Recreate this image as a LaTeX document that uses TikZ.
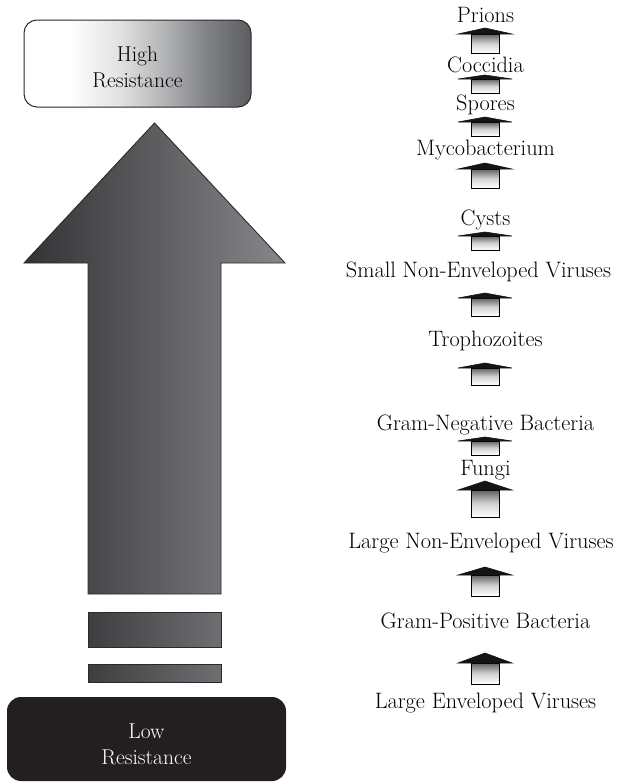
\documentclass[tikz,border=0pt]{standalone}
\usepackage{fontspec}
\setmainfont{Latin Modern Roman}
\definecolor{hrA}{HTML}{E2E2E3}
\definecolor{hrB}{HTML}{B2B3B5}
\definecolor{hrC}{HTML}{828386}
\definecolor{hrD}{HTML}{5C5D60}
\definecolor{arrL}{HTML}{333335}
\definecolor{arrR}{HTML}{86878A}
\definecolor{barL}{HTML}{3E3E40}
\definecolor{barR}{HTML}{6E6F72}
\definecolor{lowfill}{HTML}{231F20}
\definecolor{edge}{HTML}{2A2A2A}
\pgfdeclarehorizontalshading{highres}{100bp}{color(0bp)=(white); color(25bp)=(white); color(35bp)=(white); color(46bp)=(hrA); color(56bp)=(hrB); color(65bp)=(hrC); color(75bp)=(hrD); color(100bp)=(hrD)}
\tikzset{
  lbl/.style={anchor=base, inner sep=0pt, font=\fontsize{22.3}{26}\selectfont},
  boxtxt/.style={align=center, inner sep=0pt, font=\fontsize{21.5}{26}\selectfont},
  shaftbox/.style={draw=black, line width=0.9pt, top color=black!62, bottom color=white, middle color=black!18},
  headbox/.style={fill=black!92, draw=black!92, line width=0.6pt, line join=miter},
  bigarr/.style={draw=edge, line width=0.9pt, left color=arrL, right color=arrR},
  barbox/.style={draw=edge, line width=0.9pt, left color=barL, right color=barR}
}
\newcommand\smallarr[3]{%
  \path[shaftbox] (471,#2) rectangle (499,#3);
  \path[headbox] (458,#2) -- (485,#1) -- (512,#2) -- cycle;
}
\begin{document}
\begin{tikzpicture}[x=1pt,y=-1pt]
\useasboundingbox (0,0) rectangle (616,782);
% left side
\path[draw=edge, line width=1pt, rounded corners=13pt, shading=highres] (24,20) rectangle (251,107);
\node[boxtxt] (high) at (137.5,67) {High\\Resistance};
\path[bigarr] (88,594) -- (88,263) -- (24,263) -- (154.5,123) -- (285,263) -- (221,263) -- (221,594) -- cycle;
\path[barbox] (88,612) rectangle (221,647);
\path[barbox] (88,664) rectangle (221,682);
\path[fill=lowfill, rounded corners=14pt] (7,697) rectangle (286,781);
\node[boxtxt, text=white] (low) at (146.5,744) {Low\\Resistance};
% right side labels
\node[lbl] (prions) at (485.5,22) {Prions};
\node[lbl] (cocc) at (485.5,72) {Coccidia};
\node[lbl] (spores) at (485.5,110) {Spores};
\node[lbl] (myco) at (485.5,155) {Mycobacterium};
\node[lbl] (cysts) at (485.5,225) {Cysts};
\node[lbl] (snev) at (478.5,277) {Small Non-Enveloped Viruses};
\node[lbl] (troph) at (485.5,346) {Trophozoites};
\node[lbl] (gneg) at (485.5,430) {Gram-Negative Bacteria};
\node[lbl] (fungi) at (485.5,475) {Fungi};
\node[lbl] (lnev) at (481,548) {Large Non-Enveloped Viruses};
\node[lbl] (gpos) at (485.5,628) {Gram-Positive Bacteria};
\node[lbl] (lev) at (485.5,708) {Large Enveloped Viruses};
% small arrows
\smallarr{28}{34}{53}
\smallarr{75}{79}{93}
\smallarr{117}{122}{136}
\smallarr{163}{169}{188}
\smallarr{232}{236}{250}
\smallarr{293}{298}{316}
\smallarr{363}{368}{385}
\smallarr{437}{441}{455}
\smallarr{481}{490}{517}
\smallarr{567}{575}{596}
\smallarr{653}{663}{684}
\end{tikzpicture}
\end{document}
